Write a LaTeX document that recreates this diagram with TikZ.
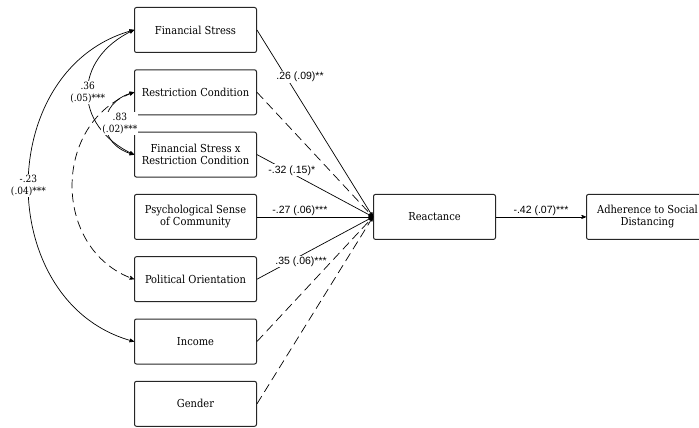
\documentclass[tikz,border=0pt]{standalone}
\usepackage{fontspec}
\setmainfont{DejaVu Serif Condensed}
\newfontfamily\coeffont{Liberation Sans}
\tikzstyle{var}=[rectangle,rounded corners=2pt,draw=black!85,line width=1pt,
minimum width=122pt,minimum height=45pt,align=center,font=\fontsize{11}{12}\selectfont]
\tikzstyle{coef}=[font=\coeffont\fontsize{10.5}{12}\selectfont,fill=white,inner sep=1pt]
\tikzstyle{cov}=[font=\fontsize{10}{12}\selectfont,fill=white,inner sep=1pt,align=center]
\tikzstyle{dpath}=[dash pattern=on 9pt off 5pt]
\usetikzlibrary{arrows,positioning}

\begin{document}
\begin{tikzpicture}[x=1pt,y=1pt,>=stealth',line width=0.7pt]
            \useasboundingbox (0,0) rectangle (699,-428);

            % PREDICTOR PART

            \node[var]                       (fs)    at (195.5,-30) {Financial Stress};
            \node[var,below=16.3pt of fs]    (rc)    {Restriction Condition};
            \node[var,below=16.3pt of rc]    (fsrc)  {Financial Stress x\\Restriction Condition};
            \node[var,below=16.3pt of fsrc]  (psc)   {Psychological Sense\\of Community};
            \node[var,below=16.3pt of psc]   (pol)   {Political Orientation};
            \node[var,below=16.3pt of pol]   (inc)   {Income};
            \node[var,below=16.3pt of inc]   (gen)   {Gender};

            % OUTCOME PART

            \node[var,right=116pt of psc]  (react) {Reactance};
            \node[var,right=90pt of react] (adh)   {Adherence to Social\\Distancing};

            % Paths to Reactance

            \path[->] (fs.east) edge node[coef,pos=.25,xshift=14pt] {.26 (.09)**} (react.west);
            \path[->,dpath] (rc.east) edge (react.west);
            \path[->] (fsrc.east) edge node[coef,pos=.3,yshift=3pt] {-.32 (.15)*} (react.west);
            \path[->] (psc.east) edge node[coef,above,fill=none,inner sep=.5pt,pos=.37] {-.27 (.06)***} (react.west);
            \path[->] (pol.east) edge node[coef,pos=.38,yshift=-6pt] {.35 (.06)***} (react.west);
            \path[->,dpath] (inc.east) edge (react.west);
            \path[->,dpath] (gen.east) edge (react.west);

            \path[->] (react) edge node[coef,above,fill=none] {-.42 (.07)***} (adh);

            % Covariances

            \path[<->] (fs.west) edge[out=195,in=165,looseness=1.2] node[cov] {-.23\\(.04)***} (inc.west);
            \path[<->] (fs.west) edge[out=205,in=155,looseness=1.4] node[cov] {.36\\(.05)***} (fsrc.west);
            \path[<->] (rc.west) edge[out=195,in=165,looseness=1.6] node[cov,xshift=14pt] {.83\\(.02)***} (fsrc.west);
            \path[<->,dpath] (rc.west) edge[out=200,in=160,looseness=1.2] (pol.west);

        \end{tikzpicture}
\end{document}
